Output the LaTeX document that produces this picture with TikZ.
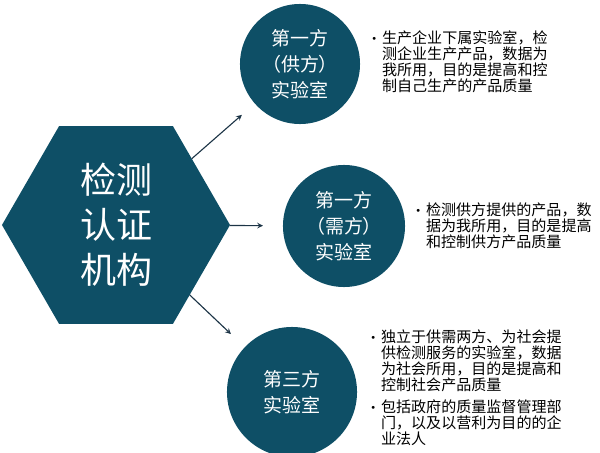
\documentclass[tikz,border=0pt]{standalone}
\usepackage{fontspec}
\setmainfont{Noto Sans CJK SC}
\newfontfamily\dejavu{DejaVu Sans}
\usetikzlibrary{shapes.geometric, positioning, arrows.meta, calc}
\definecolor{tealblue}{RGB}{14,79,102}
\definecolor{arrowc}{RGB}{28,52,70}
\newcommand{\bitem}{\makebox[0.27cm][l]{\raisebox{0.5pt}{\dejavu\fontsize{7pt}{7pt}\selectfont\textbullet}}}
\newcommand{\bind}{\hspace*{0.27cm}}
\tikzset{
  hexa/.style={regular polygon, regular polygon sides=6, minimum size=5.7cm, inner sep=0pt, outer sep=0pt, fill=tealblue, text=white, align=center, font=\fontsize{25.6pt}{32pt}\selectfont},
  lab/.style={circle, fill=tealblue, text=white, align=center, inner sep=0pt, outer sep=0pt, font=\fontsize{13.5pt}{18.5pt}\selectfont},
  desc/.style={align=left, inner sep=0pt, anchor=north west, font=\fontsize{10.7pt}{11.5pt}\selectfont},
  arrow/.style={thick,->,>=stealth, draw=arrowc}
}

\begin{document}
\begin{tikzpicture}[x=0.025cm, y=-0.025cm]
        \useasboundingbox (0,0) rectangle (600,453);
        \node (hex) [hexa] at (116,225) {检测\\认证\\机构};
        \node (lab1) [lab, minimum size=3cm] at (300,64) {第一方\\（供方）\\实验室};
        \node (lab2) [lab, minimum size=3.05cm] at (344,226) {第一方\\（需方）\\实验室};
        \node (lab3) [lab, minimum size=3.25cm] at (292,392) {第三方\\实验室};

        \node (txt1) [desc] at (371,30) {\bitem 生产企业下属实验室，检\\\bind 测企业生产产品，数据为\\\bind 我所用，目的是提高和控\\\bind 制自己生产的产品质量};
        \node (txt2) [desc] at (415,202) {\bitem 检测供方提供的产品，数\\\bind 据为我所用，目的是提高\\\bind 和控制供方产品质量};
        \node (txt3) [desc] at (370,329) {\bitem 独立于供需两方、为社会提\\\bind 供检测服务的实验室，数据\\\bind 为社会所用，目的是提高和\\\bind 控制社会产品质量\\[4pt]\bitem 包括政府的质量监督管理部\\\bind 门，以及以营利为目的的企\\\bind 业法人};

        \draw [arrow, shorten >=0.43cm] (hex) -- (lab1);
        \draw [arrow, shorten >=0.5cm] (hex) -- (lab2);
        \draw [arrow, shorten >=0.48cm] (hex) -- (lab3);
\end{tikzpicture}
\end{document}
